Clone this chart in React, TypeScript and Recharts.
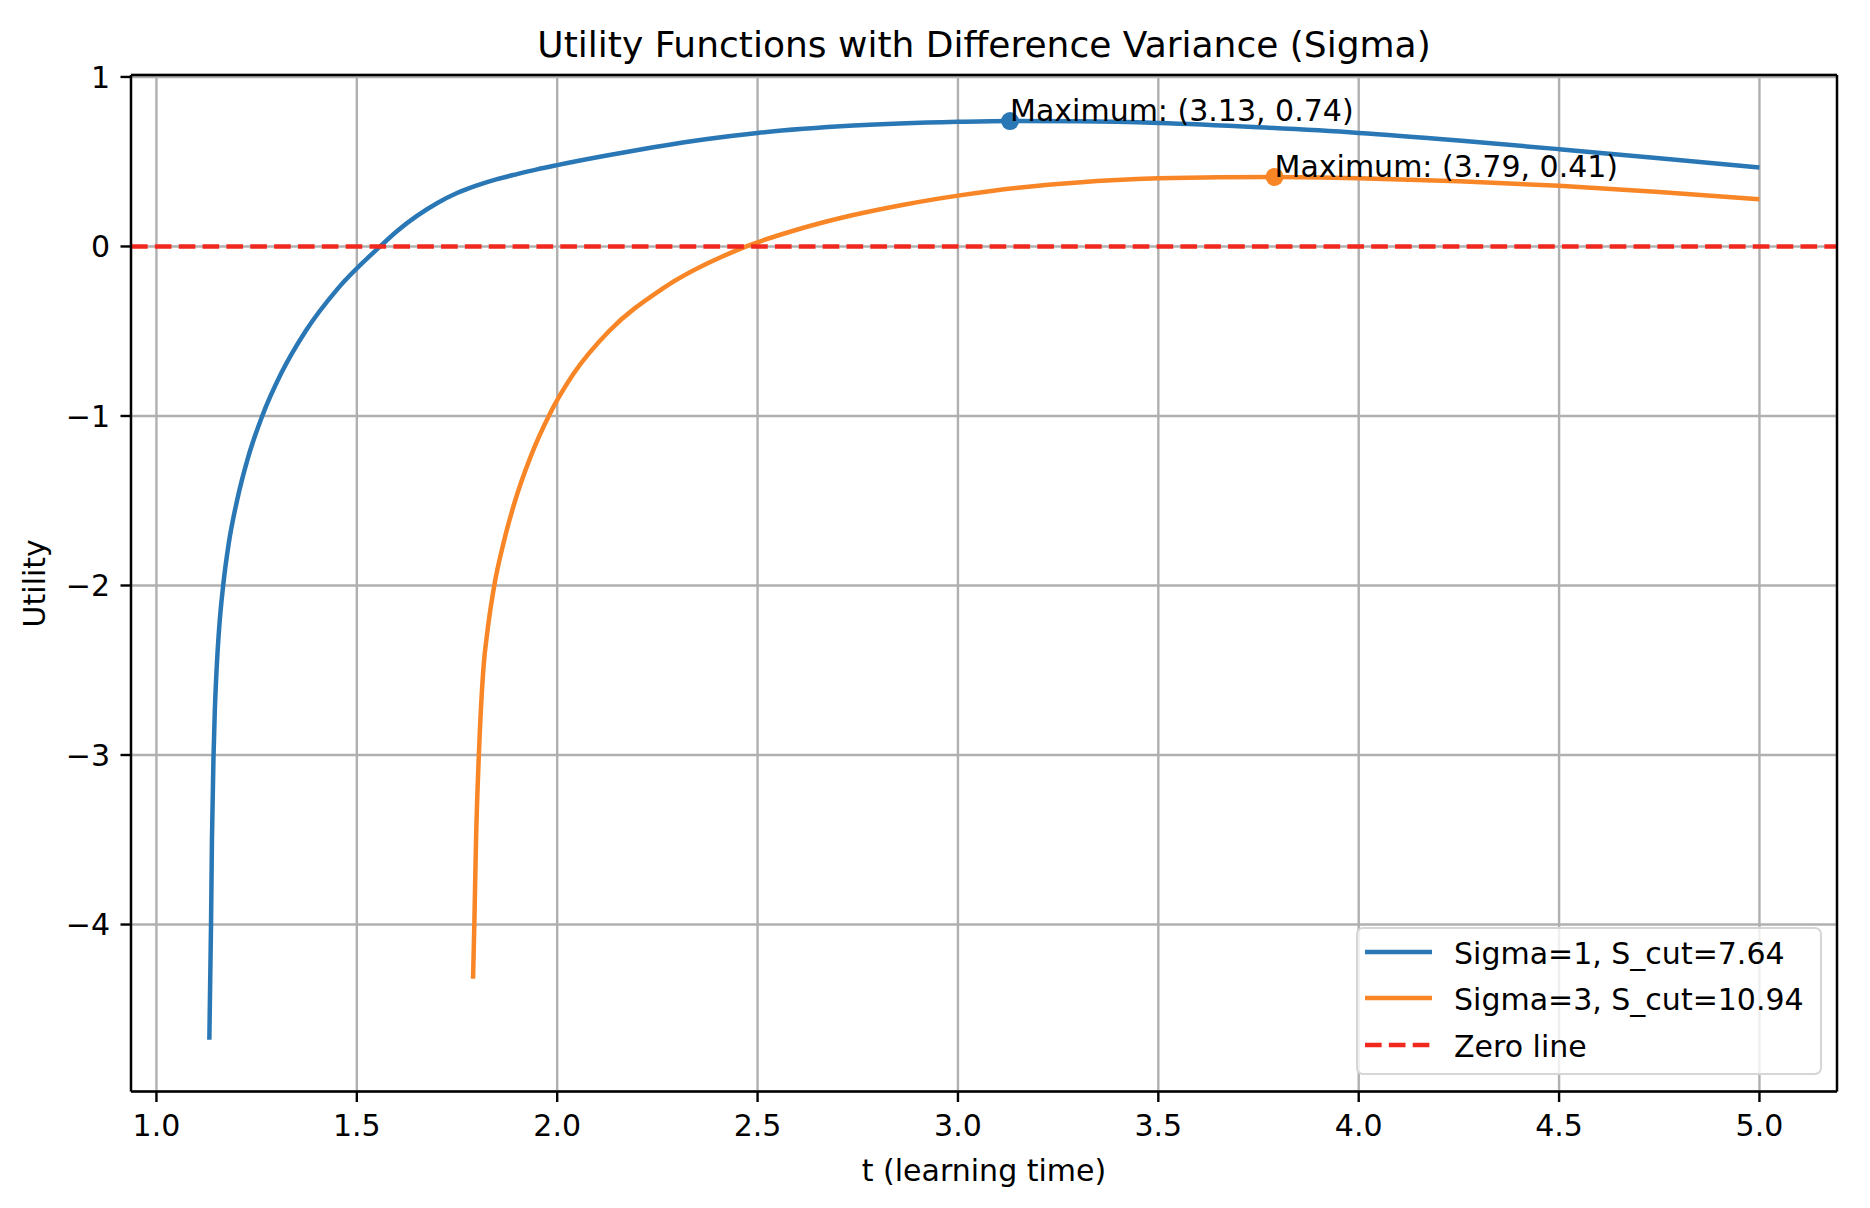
import React from 'react';
import { LineChart, Line, XAxis, YAxis, CartesianGrid, ReferenceLine, ReferenceDot } from 'recharts';

// Sigma = 1 curve
const sigma1T = [1.132, 1.1362, 1.1385, 1.1425, 1.1455, 1.15, 1.1565, 1.1665, 1.1805, 1.201, 1.228, 1.264, 1.311, 1.372, 1.452, 1.558, 1.6, 1.65, 1.7, 1.75, 1.8, 1.85, 1.9, 1.95, 2.0, 2.12, 2.24, 2.37, 2.5, 2.74, 3.0, 3.13, 3.3, 3.5, 3.75, 4.0, 4.25, 4.5, 4.75, 5.0];
const sigma1U = [-4.68, -4.0, -3.5, -3.0, -2.75, -2.5, -2.25, -2.0, -1.75, -1.5, -1.25, -1.0, -0.75, -0.5, -0.25, 0.0, 0.09, 0.18, 0.255, 0.315, 0.36, 0.397, 0.427, 0.455, 0.48, 0.535, 0.585, 0.633, 0.67, 0.713, 0.735, 0.74, 0.738, 0.728, 0.703, 0.67, 0.625, 0.574, 0.52, 0.466];

// Sigma = 3 curve
const sigma3T = [1.79, 1.7932, 1.7975, 1.8045, 1.8155, 1.827, 1.843, 1.866, 1.895, 1.932, 1.979, 2.041, 2.129, 2.262, 2.472, 2.604, 2.736, 2.868, 3.0, 3.15, 3.3, 3.5, 3.65, 3.79, 4.0, 4.25, 4.5, 4.75, 5.0];
const sigma3U = [-4.32, -4.0, -3.5, -3.0, -2.5, -2.25, -2.0, -1.75, -1.5, -1.25, -1.0, -0.75, -0.5, -0.25, 0.0, 0.103, 0.184, 0.248, 0.3, 0.347, 0.378, 0.402, 0.409, 0.41, 0.403, 0.385, 0.358, 0.322, 0.279];

const maxT = [3.13, 3.79];
const maxU = [0.74, 0.41];

const seriesNames = ['Sigma=1, S_cut=7.64', 'Sigma=3, S_cut=10.94', 'Zero line'];
const xTicks = [1.0, 1.5, 2.0, 2.5, 3.0, 3.5, 4.0, 4.5, 5.0];
const yTicks = [-4, -3, -2, -1, 0, 1];

const X_MIN = 0.9365;
const X_MAX = 5.1935;
const Y_MIN = -4.985;
const Y_MAX = 1.0115;

const BLUE = '#2a77b5';
const ORANGE = '#f88526';
const RED = '#f0281e';
const FONT = '"DejaVu Sans", sans-serif';

const zip = (ts: number[], us: number[]) => ts.map((t, i) => ({ t, u: us[i] }));
const sigma1Data = zip(sigma1T, sigma1U);
const sigma3Data = zip(sigma3T, sigma3U);

const fmtY = (v: number) => (v < 0 ? '\u2212' + Math.abs(v) : String(v));

const maxShape = (color: string, i: number) => (p: any) => (
  <g>
    <circle cx={p.cx} cy={p.cy} r={9} fill={color} />
    <text x={p.cx} y={p.cy} fontSize={30} fontFamily={FONT} fill="#000">
      {`Maximum: (${maxT[i].toFixed(2)}, ${maxU[i].toFixed(2)})`}
    </text>
  </g>
);

const LegendBox = () => {
  const colors = [BLUE, ORANGE, RED];
  const rows = [25, 71, 118];
  return (
    <div
      style={{
        position: 'absolute', left: 1356, top: 927, width: 466, height: 148,
        background: 'rgba(255,255,255,0.8)', border: '2px solid #d6d6d6', borderRadius: 7,
        boxSizing: 'border-box',
      }}
    >
      <svg width={466} height={148} style={{ position: 'absolute', left: -2, top: -2 }}>
        {seriesNames.map((name, i) => (
          <g key={name}>
            <line
              x1={9} x2={76} y1={rows[i]} y2={rows[i]} stroke={colors[i]} strokeWidth={4.5}
              strokeDasharray={i === 2 ? '16.65 7.2' : undefined}
            />
            <text x={98} y={rows[i] + 12} fontSize={30} fontFamily={FONT} fill="#000">{name}</text>
          </g>
        ))}
      </svg>
    </div>
  );
};

export default function App() {
  const axisStroke = { stroke: '#000', strokeWidth: 2.4 };
  return (
    <div style={{ position: 'absolute', left: 0, top: 0, width: 1870, height: 1208, background: '#fff', fontFamily: FONT }}>
      <svg width={1870} height={75} style={{ position: 'absolute', left: 0, top: 0 }}>
        <text x={984} y={57} textAnchor="middle" fontSize={36} fontFamily={FONT} fill="#000">
          Utility Functions with Difference Variance (Sigma)
        </text>
      </svg>
      <LineChart width={1870} height={1208} margin={{ top: 75, right: 33, bottom: 0, left: 0 }}>
        <CartesianGrid stroke="#b0b0b0" strokeWidth={2.4} />
        <XAxis
          type="number" dataKey="t" domain={[X_MIN, X_MAX]} ticks={xTicks} interval={0}
          allowDataOverflow height={116.5}
          tickFormatter={(v: number) => v.toFixed(1)}
          tick={{ fontSize: 30, fill: '#000', fontFamily: FONT }}
          tickSize={10.5} tickMargin={13}
          axisLine={axisStroke} tickLine={axisStroke}
          label={{ value: 't (learning time)', position: 'insideBottom', offset: 27, fontSize: 30, fill: '#000', fontFamily: FONT }}
        />
        <YAxis
          type="number" dataKey="u" domain={[Y_MIN, Y_MAX]} ticks={yTicks} interval={0}
          allowDataOverflow width={131}
          tickFormatter={fmtY}
          tick={{ fontSize: 30, fill: '#000', fontFamily: FONT }}
          tickSize={10.5} tickMargin={10.5}
          axisLine={axisStroke} tickLine={axisStroke}
          label={{ value: 'Utility', angle: -90, position: 'insideLeft', offset: 34, fontSize: 30, fill: '#000', fontFamily: FONT, style: { textAnchor: 'middle' } }}
        />
        <Line data={sigma1Data} dataKey="u" type="monotone" stroke={BLUE} strokeWidth={4.5} dot={false} isAnimationActive={false} name={seriesNames[0]} />
        <Line data={sigma3Data} dataKey="u" type="monotone" stroke={ORANGE} strokeWidth={4.5} dot={false} isAnimationActive={false} name={seriesNames[1]} />
        <ReferenceLine y={0} stroke={RED} strokeWidth={4.5} strokeDasharray="16.65 7.2" />
        <ReferenceLine y={Y_MAX} stroke="#000" strokeWidth={2.4} />
        <ReferenceLine x={X_MAX} stroke="#000" strokeWidth={2.4} />
        <ReferenceDot x={maxT[0]} y={maxU[0]} r={9} shape={maxShape(BLUE, 0)} />
        <ReferenceDot x={maxT[1]} y={maxU[1]} r={9} shape={maxShape(ORANGE, 1)} />
      </LineChart>
      <LegendBox />
    </div>
  );
}
